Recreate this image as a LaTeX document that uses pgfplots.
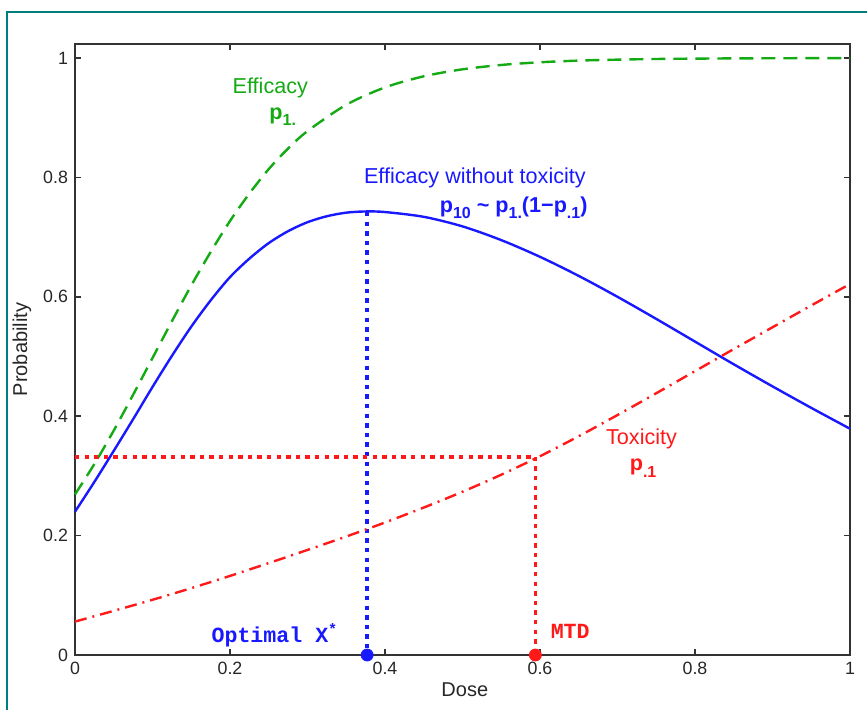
\documentclass[border=0pt]{standalone}
\usepackage{fontspec}
\setmainfont{Liberation Sans}
\setmonofont{Liberation Mono}
\usepackage{pgfplots}
\pgfplotsset{compat=1.18}
\definecolor{effgreen}{RGB}{20,170,20}
\definecolor{myblue}{RGB}{25,25,255}
\definecolor{myred}{RGB}{255,25,25}
\definecolor{framecol}{RGB}{0,125,125}
\newcommand{\sub}[1]{\raisebox{-0.55ex}{\fontsize{8}{8}\selectfont #1}}

\pgfplotstableread{
x y
0 0.269
0.025 0.320
0.05 0.376
0.075 0.436
0.1 0.4975
0.125 0.559
0.15 0.619
0.175 0.675
0.2 0.727
0.225 0.773
0.25 0.814
0.275 0.8485
0.3 0.8776
0.35 0.9217
0.4 0.9508
0.45 0.9694
0.5 0.9811
0.55 0.9884
0.6 0.9929
0.65 0.9957
0.7 0.9973
0.75 0.9984
0.8 0.9990
0.85 0.9994
0.9 0.9996
0.95 0.9998
1.0 0.9999
}\efficacy

\pgfplotstableread{
x y
0 0.240
0.025 0.290
0.05 0.342
0.075 0.395
0.1 0.449
0.125 0.501
0.15 0.550
0.175 0.594
0.2 0.633
0.225 0.664
0.25 0.690
0.275 0.710
0.3 0.725
0.325 0.735
0.35 0.741
0.375 0.743
0.4 0.742
0.45 0.734
0.5 0.718
0.55 0.695
0.6 0.667
0.65 0.635
0.7 0.600
0.75 0.563
0.8 0.525
0.85 0.487
0.9 0.450
0.95 0.414
1.0 0.379
}\effnotox

\pgfplotstableread{
x y
0 0.056
0.05 0.074
0.1 0.0925
0.15 0.112
0.2 0.1325
0.25 0.154
0.3 0.176
0.35 0.1985
0.4 0.222
0.45 0.247
0.5 0.2735
0.55 0.302
0.6 0.333
0.65 0.3665
0.7 0.402
0.75 0.4385
0.8 0.4755
0.85 0.5125
0.9 0.549
0.95 0.5855
1.0 0.6215
}\toxicity

\begin{document}
\begin{tikzpicture}
\useasboundingbox (-37.5pt,-27pt) rectangle (396pt,327.5pt);
\draw[framecol, line width=1.2pt] (-34pt,-30pt) -- (-34pt,321.5pt) -- (400pt,321.5pt);
\begin{axis}[
  at={(0,0)}, anchor=south west,
  scale only axis, width=387.5pt, height=305.5pt,
  xmin=0, xmax=1, ymin=0, ymax=1.0235,
  xtick={0,0.2,0.4,0.6,0.8,1},
  ytick={0,0.2,0.4,0.6,0.8,1},
  tick align=inside, major tick length=3pt,
  axis line style={line width=0.75pt, black!80},
  every tick/.style={black!80, line width=0.75pt},
  tick label style={font=\fontsize{8.9}{10}\selectfont, black!85},
  /pgf/number format/assume math mode=true,
  xlabel={Dose}, ylabel={Probability},
  label style={font=\fontsize{10}{12}\selectfont, black!85},
  xlabel style={at={(axis description cs:0.503,-0.057)}, anchor=center},
  ylabel style={at={(axis description cs:-0.0684,0.5)}, anchor=center},
  clip=false,
]
% dotted guide lines
\addplot[myblue, line width=1.8pt, dash pattern=on 2.2pt off 2.6pt] coordinates {(0.377,0.742) (0.377,0)};
\addplot[myred, line width=1.8pt, dash pattern=on 2.2pt off 2.6pt] coordinates {(0,0.332) (0.594,0.332)};
\addplot[myred, line width=1.8pt, dash pattern=on 2.2pt off 2.6pt] coordinates {(0.594,0.332) (0.594,0)};
% curves
\addplot[effgreen, line width=1.2pt, dash pattern=on 7pt off 4pt, smooth] table[x=x,y=y] {\efficacy};
\addplot[myblue, line width=1.2pt, smooth] table[x=x,y=y] {\effnotox};
\addplot[myred, line width=1.2pt, dash pattern=on 6pt off 3pt on 1pt off 3pt, smooth] table[x=x,y=y] {\toxicity};
% markers
\addplot[only marks, mark=*, mark size=3pt, myblue] coordinates {(0.377,0)};
\addplot[only marks, mark=*, mark size=3pt, myred] coordinates {(0.594,0)};
% annotations
\node[effgreen, font=\fontsize{10.8}{12}\selectfont] at (axis cs:0.252,0.950) {Efficacy};
\node[effgreen, font=\fontsize{10.8}{12}\selectfont\bfseries] at (axis cs:0.268,0.902) {p\sub{1.}};
\node[myblue, font=\fontsize{10.8}{12}\selectfont] at (axis cs:0.516,0.800) {Efficacy without toxicity};
\node[myblue, font=\fontsize{10.8}{12}\selectfont\bfseries] at (axis cs:0.566,0.749) {p\sub{10} \textasciitilde{} p\sub{1.}(1−p\sub{.1})};
\node[myred, font=\fontsize{10.8}{12}\selectfont] at (axis cs:0.731,0.362) {Toxicity};
\node[myred, font=\fontsize{10.8}{12}\selectfont\bfseries] at (axis cs:0.733,0.313) {p\sub{.1}};
\node[myblue, font=\ttfamily\bfseries\fontsize{10.8}{12}\selectfont] at (axis cs:0.258,0.033) {Optimal X\textsuperscript{*}};
\node[myred, font=\ttfamily\bfseries\fontsize{10.8}{12}\selectfont] at (axis cs:0.639,0.039) {MTD};
\end{axis}
\end{tikzpicture}
\end{document}
